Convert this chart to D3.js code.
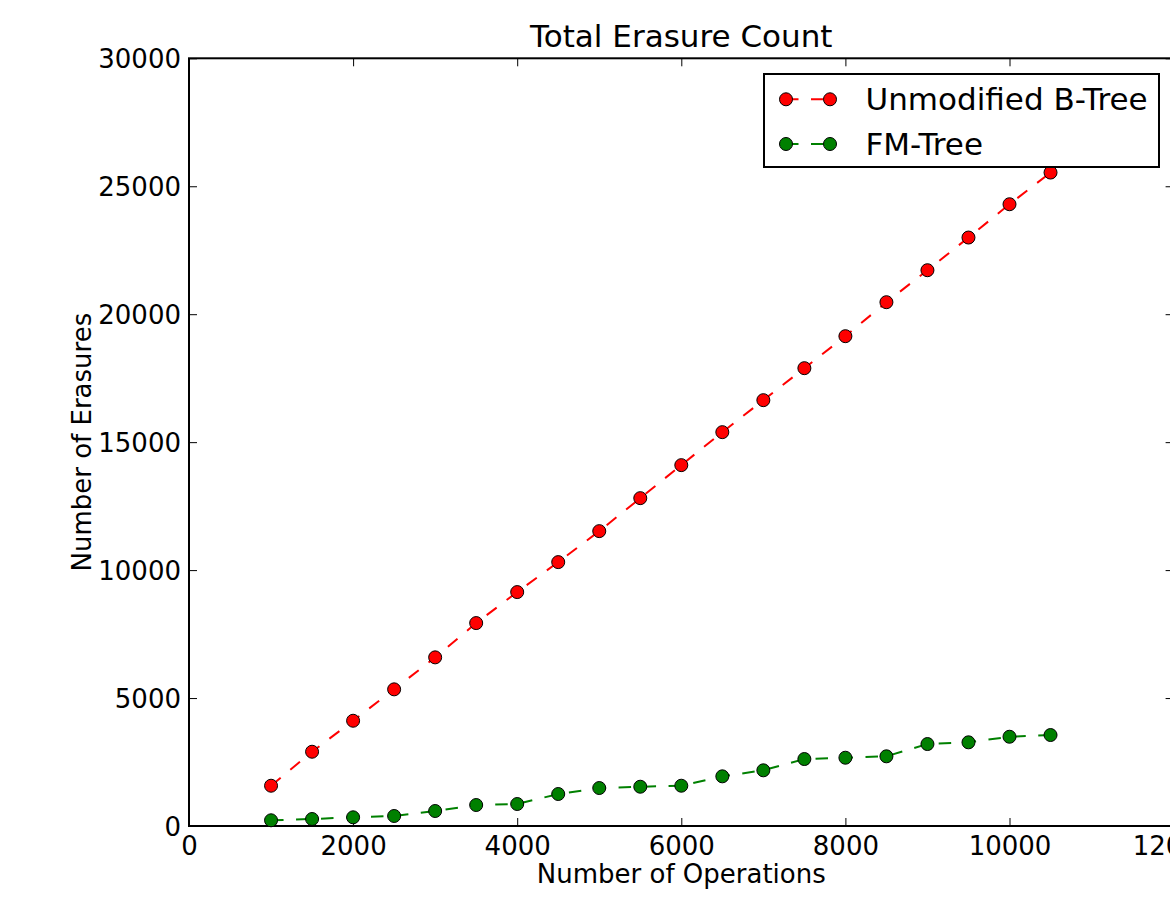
<!DOCTYPE html>
<html lang="en">
<head>
  <script src="https://d3js.org/d3.v7.min.js"></script>
  <style>
    body {
      margin: 0;
      background: white;
    }

    text {
      font-family: "DejaVu Sans", sans-serif;
      fill: #000;
    }

    .axis path {
      display: none;
    }

    .axis line {
      stroke: #000;
      stroke-width: 1px;
    }

    .axis text {
      font-size: 26px;
    }
  </style>
</head>
<body>
<div id="chart"></div>
<script>
  // operations (x) vs. erasures (y)
  var operations = [1000, 1500, 2000, 2500, 3000, 3500, 4000, 4500, 5000, 5500,
    6000, 6500, 7000, 7500, 8000, 8500, 9000, 9500, 10000, 10500];
  var btreeErasures = [1574, 2902, 4113, 5340, 6590, 7930, 9141, 10312, 11523, 12812,
    14102, 15391, 16641, 17891, 19141, 20469, 21719, 22996, 24297, 25535];
  var fmtreeErasures = [223, 273, 340, 391, 586, 820, 859, 1250, 1484, 1535,
    1574, 1941, 2176, 2617, 2668, 2723, 3203, 3270, 3488, 3555];
  var xTicks = [0, 2000, 4000, 6000, 8000, 10000, 12000];
  var yTicks = [0, 5000, 10000, 15000, 20000, 25000, 30000];

  var series = [
    {name: "Unmodified B-Tree", color: "#ff0000", values: btreeErasures},
    {name: "FM-Tree", color: "#008000", values: fmtreeErasures}
  ];

  var margin = {top: 58.3, left: 189},
      width = 984.6,
      height = 767.7;

  var svg = d3.select("#chart").append("svg")
          .attr("width", 1170)
          .attr("height", 897)
          .style("display", "block")
          .style("background-color", "white");

  var g = svg.append("g")
          .attr("transform", "translate(" + margin.left + "," + margin.top + ")");

  var x = d3.scaleLinear().domain([0, 12000]).range([0, width]);
  var y = d3.scaleLinear().domain([0, 30000]).range([height, 0]);

  // matplotlib style: ticks inside on all four sides
  var gx = g.append("g")
          .attr("class", "axis")
          .attr("transform", "translate(0," + height + ")")
          .call(d3.axisBottom(x).tickValues(xTicks).tickFormat(d3.format("d")).tickSizeInner(-8).tickPadding(11));
  g.append("g")
          .attr("class", "axis")
          .call(d3.axisTop(x).tickValues(xTicks).tickFormat("").tickSizeInner(-8));
  var gy = g.append("g")
          .attr("class", "axis")
          .call(d3.axisLeft(y).tickValues(yTicks).tickFormat(d3.format("d")).tickSizeInner(-8).tickPadding(8));
  g.append("g")
          .attr("class", "axis")
          .attr("transform", "translate(" + width + ",0)")
          .call(d3.axisRight(y).tickValues(yTicks).tickFormat("").tickSizeInner(-8));

  gx.selectAll("text").attr("dy", "0.71em");
  gy.selectAll("text").attr("dy", "0.36em");

  g.append("rect")
          .attr("width", width)
          .attr("height", height)
          .attr("fill", "none")
          .attr("stroke", "#000")
          .attr("stroke-width", 2);

  var line = d3.line()
          .x(function(d, i) { return x(operations[i]); })
          .y(function(d) { return y(d); });

  series.forEach(function(s) {
    g.append("path")
            .datum(s.values)
            .attr("d", line)
            .attr("fill", "none")
            .attr("stroke", s.color)
            .attr("stroke-width", 2)
            .attr("stroke-dasharray", "12.5,12.5");

    g.selectAll(null)
            .data(s.values)
            .enter().append("circle")
            .attr("cx", function(d, i) { return x(operations[i]); })
            .attr("cy", function(d) { return y(d); })
            .attr("r", 6.5)
            .attr("fill", s.color)
            .attr("stroke", "#000")
            .attr("stroke-width", 1);
  });

  // titles
  svg.append("text")
          .attr("x", margin.left + width / 2)
          .attr("y", 46.7)
          .attr("text-anchor", "middle")
          .style("font-size", "31px")
          .text("Total Erasure Count");

  svg.append("text")
          .attr("x", margin.left + width / 2)
          .attr("y", 883)
          .attr("text-anchor", "middle")
          .style("font-size", "26px")
          .text("Number of Operations");

  svg.append("text")
          .attr("transform", "translate(90.5," + (margin.top + height / 2) + ") rotate(-90)")
          .attr("text-anchor", "middle")
          .style("font-size", "26px")
          .text("Number of Erasures");

  // legend
  var legend = svg.append("g");
  legend.append("rect")
          .attr("x", 764)
          .attr("y", 74)
          .attr("width", 395)
          .attr("height", 93)
          .attr("fill", "white")
          .attr("stroke", "#000")
          .attr("stroke-width", 2);

  var rows = legend.selectAll(".row")
          .data(series)
          .enter().append("g")
          .attr("class", "row")
          .attr("transform", function(d, i) { return "translate(0," + (99.3 + i * 44.7) + ")"; });

  rows.append("line")
          .attr("x1", 786).attr("x2", 830)
          .attr("stroke", function(d) { return d.color; })
          .attr("stroke-width", 2)
          .attr("stroke-dasharray", "12.5,12.5");
  rows.selectAll("circle")
          .data(function(d) { return [{cx: 786, c: d.color}, {cx: 830, c: d.color}]; })
          .enter().append("circle")
          .attr("cx", function(d) { return d.cx; })
          .attr("r", 6.5)
          .attr("fill", function(d) { return d.c; })
          .attr("stroke", "#000")
          .attr("stroke-width", 1);
  rows.append("text")
          .attr("x", 865.5)
          .attr("dy", "0.36em")
          .style("font-size", "31px")
          .text(function(d) { return d.name; });
</script>
</body>
</html>
